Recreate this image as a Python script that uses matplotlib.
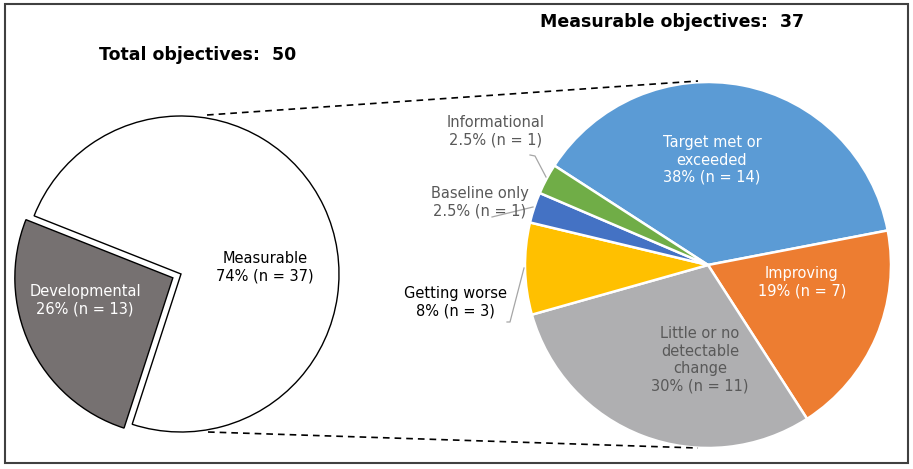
import matplotlib.pyplot as plt
from matplotlib.patches import Rectangle

# left pie: all objectives
total_labels = ["Measurable", "Developmental"]
total_counts = [37, 13]
total_pct = ["74%", "26%"]

# right pie: measurable objectives broken down
meas_labels = ["Target met or\nexceeded", "Improving", "Little or no\ndetectable\nchange",
               "Getting worse", "Baseline only", "Informational"]
meas_counts = [14, 7, 11, 3, 1, 1]
meas_pct = ["38%", "19%", "30%", "8%", "2.5%", "2.5%"]

W, H = 913, 469
fig = plt.figure(figsize=(W / 100, H / 100), dpi=100)
ax = fig.add_axes([0, 0, 1, 1])
ax.set_xlim(0, W)
ax.set_ylim(0, H)
ax.axis('off')

plt.rcParams['font.family'] = ['DejaVu Sans']

# left pie
lc, lr = (181, 195), 158
ax.pie(total_counts, colors=['white', '#767171'], startangle=252, counterclock=True,
       center=lc, radius=lr, explode=[0, 9], frame=True,
       wedgeprops=dict(edgecolor='black', linewidth=1.0))

# right pie
rc, rr = (708, 204), 183
ax.pie(meas_counts, colors=['#5B9BD5', '#ED7D31', '#AFAFB1', '#FFC000', '#4472C4', '#70AD47'],
       startangle=147.1, counterclock=False, center=rc, radius=rr, frame=True,
       wedgeprops=dict(edgecolor='white', linewidth=1.8))

ax.set_xlim(0, W)
ax.set_ylim(0, H)
ax.set_aspect('equal')
ax.axis('off')

# dashed connectors
ax.plot([207, 698], [354, 388], color='black', lw=1.2, ls=(0, (4, 3)))
ax.plot([208, 698], [37, 21], color='black', lw=1.2, ls=(0, (4, 3)))

fs = 10.5
def lab(i, labels, pcts, counts):
    return "%s\n%s (n = %d)" % (labels[i], pcts[i], counts[i])

ax.text(265, 202, lab(0, total_labels, total_pct, total_counts), ha='center', va='center',
        fontsize=fs, color='black')
ax.text(85, 169, lab(1, total_labels, total_pct, total_counts), ha='center', va='center',
        fontsize=fs, color='white')

ax.text(712, 309, lab(0, meas_labels, meas_pct, meas_counts), ha='center', va='center',
        fontsize=fs, color='white')
ax.text(802, 187, lab(1, meas_labels, meas_pct, meas_counts), ha='center', va='center',
        fontsize=fs, color='white')
ax.text(700, 109, lab(2, meas_labels, meas_pct, meas_counts), ha='center', va='center',
        fontsize=fs, color='#595959')
ax.text(455, 167, lab(3, meas_labels, meas_pct, meas_counts), ha='center', va='center',
        fontsize=fs, color='black')
ax.text(480, 267, lab(4, meas_labels, meas_pct, meas_counts), ha='center', va='center',
        fontsize=fs, color='#595959')
ax.text(496, 337.5, lab(5, meas_labels, meas_pct, meas_counts), ha='center', va='center',
        fontsize=fs, color='#595959')

# leader lines
lc_col = '#A6A6A6'
ax.plot([530, 535, 546], [314, 313, 292], color=lc_col, lw=0.9)
ax.plot([492, 533], [252, 262], color=lc_col, lw=0.9)
ax.plot([507, 510, 524], [147, 147, 201], color=lc_col, lw=0.9)

# titles
ax.text(198, 414, "Total objectives:  %d" % sum(total_counts), ha='center', va='center',
        fontsize=12.5, fontweight='bold', color='black')
ax.text(672, 447, "Measurable objectives:  %d" % sum(meas_counts), ha='center', va='center',
        fontsize=12.5, fontweight='bold', color='black')

# outer border
ax.add_patch(Rectangle((5, 6), 903, 459, fill=False, edgecolor='#404040', lw=1.5))

fig.savefig('out.png', dpi=100)
